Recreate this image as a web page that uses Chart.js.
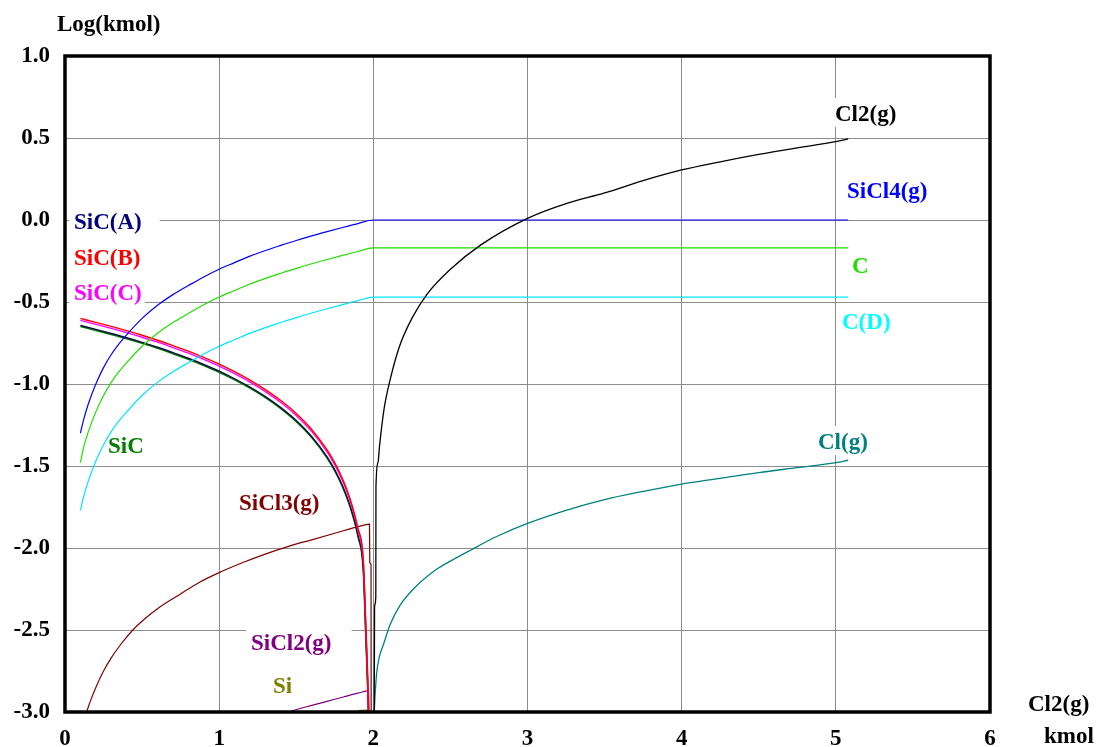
<!DOCTYPE html>
<html>
<head>
<meta charset="utf-8">
<script src="https://cdn.jsdelivr.net/npm/chart.js@4.4.1/dist/chart.umd.min.js"></script>
<style>
  html, body { margin: 0; padding: 0; background: #fff; }
  #wrap { width: 1097px; height: 747px; }
</style>
</head>
<body>
<div id="wrap"><canvas id="c" width="1097" height="747"></canvas></div>
<script>
// Axis ticks
const xTickValues = [0, 1, 2, 3, 4, 5, 6];
const xTickLabels = ['0', '1', '2', '3', '4', '5', '6'];
const yTickValues = [-3, -2.5, -2, -1.5, -1, -0.5, 0, 0.5, 1];
const yTickLabels = ['-3.0', '-2.5', '-2.0', '-1.5', '-1.0', '-0.5', '0.0', '0.5', '1.0'];

// Cl2 input (kmol) and log10 amounts of each species
const xRise = [0.1, 0.12, 0.15, 0.2, 0.25, 0.3, 0.35, 0.4, 0.5, 0.6, 0.7, 0.8, 0.9, 1.0, 1.1, 1.2, 1.3, 1.4, 1.5, 1.6, 1.7, 1.8, 1.9, 2.0, 5.08];
const sicl4 = [-1.30, -1.22, -1.125, -1.00, -0.90, -0.82, -0.755, -0.70, -0.60, -0.52, -0.455, -0.40, -0.347, -0.30, -0.26, -0.22, -0.186, -0.155, -0.125, -0.097, -0.071, -0.046, -0.022, 0.0, 0.0];
const carbon = [-1.48, -1.39, -1.295, -1.17, -1.07, -0.99, -0.925, -0.87, -0.77, -0.69, -0.625, -0.57, -0.517, -0.47, -0.43, -0.39, -0.356, -0.325, -0.295, -0.267, -0.241, -0.216, -0.192, -0.17, -0.17];
const carbonD = [-1.77, -1.69, -1.595, -1.47, -1.37, -1.29, -1.225, -1.17, -1.07, -0.99, -0.925, -0.87, -0.817, -0.77, -0.73, -0.69, -0.656, -0.625, -0.595, -0.567, -0.541, -0.516, -0.492, -0.47, -0.47];

const xSiC = [0.1, 0.2, 0.3, 0.4, 0.5, 0.6, 0.7, 0.8, 0.9, 1.0, 1.1, 1.2, 1.3, 1.4, 1.5, 1.6, 1.7, 1.75, 1.8, 1.85, 1.9, 1.935, 1.952, 1.962, 1.97];
const sicB = [-0.600, -0.624, -0.649, -0.675, -0.703, -0.733, -0.766, -0.800, -0.838, -0.879, -0.925, -0.976, -1.034, -1.101, -1.180, -1.277, -1.402, -1.481, -1.578, -1.703, -1.879, -2.07, -2.48, -2.74, -3.05];
const sicC = [-0.612, -0.636, -0.661, -0.687, -0.715, -0.745, -0.778, -0.812, -0.850, -0.891, -0.937, -0.988, -1.046, -1.113, -1.192, -1.289, -1.414, -1.493, -1.590, -1.715, -1.891, -2.09, -2.50, -2.76, -3.05];
const sicA = [-0.643, -0.667, -0.692, -0.718, -0.746, -0.776, -0.809, -0.843, -0.881, -0.922, -0.968, -1.019, -1.077, -1.144, -1.223, -1.320, -1.445, -1.524, -1.621, -1.746, -1.922, -2.13, -2.55, -2.80, -3.05];
const sic = [-0.649, -0.673, -0.698, -0.724, -0.752, -0.782, -0.815, -0.849, -0.887, -0.928, -0.974, -1.025, -1.083, -1.150, -1.229, -1.326, -1.451, -1.530, -1.627, -1.752, -1.928, -2.14, -2.56, -2.81, -3.05];

const xSiCl3 = [0.14, 0.17, 0.2, 0.25, 0.3, 0.36, 0.44, 0.52, 0.6, 0.75, 0.87, 1.0, 1.15, 1.29, 1.45, 1.6, 1.75, 1.9, 1.975, 1.977, 1.985, 1.986];
const sicl3 = [-3.0, -2.92, -2.85, -2.75, -2.67, -2.59, -2.5, -2.43, -2.37, -2.28, -2.21, -2.15, -2.09, -2.04, -1.99, -1.95, -1.91, -1.87, -1.855, -2.09, -2.10, -3.05];

const xSiCl2 = [1.42, 1.52, 1.6, 1.7, 1.8, 1.9, 1.97, 1.972];
const sicl2 = [-3.01, -2.98, -2.96, -2.935, -2.91, -2.885, -2.87, -3.05];

const xSi = [1.90, 1.967, 1.968];
const si = [-2.992, -2.988, -3.05];

const xCl2 = [2.006, 2.008, 2.016, 2.017, 2.03, 2.04, 2.07, 2.11, 2.17, 2.25, 2.35, 2.5, 2.7, 3.0, 3.25, 3.5, 3.75, 4.0, 4.25, 4.5, 4.75, 5.0, 5.08];
const cl2 = [-3.05, -2.36, -2.3, -1.63, -1.48, -1.38, -1.15, -0.97, -0.77, -0.60, -0.45, -0.30, -0.15, 0.01, 0.10, 0.165, 0.24, 0.305, 0.355, 0.40, 0.44, 0.478, 0.495];

const xCl = [2.004, 2.01, 2.022, 2.04, 2.065, 2.108, 2.173, 2.26, 2.41, 2.5, 2.627, 2.8, 3.0, 3.25, 3.5, 3.75, 4.0, 4.25, 4.5, 4.75, 5.0, 5.08];
const cl = [-3.05, -2.92, -2.76, -2.66, -2.59, -2.47, -2.35, -2.25, -2.13, -2.08, -2.015, -1.93, -1.85, -1.77, -1.705, -1.655, -1.61, -1.575, -1.54, -1.51, -1.48, -1.465];

// Species labels placed inside the plot
const labels = [
  { text: 'SiC(A)',   x: 74,  y: 229, color: '#000080', padR: 18 },
  { text: 'SiC(B)',   x: 74,  y: 265, color: '#ff0000', padR: 3 },
  { text: 'SiC(C)',   x: 74,  y: 300, color: '#ff00ff', padR: 3 },
  { text: 'SiC',      x: 108, y: 453, color: '#008000', padR: 3 },
  { text: 'SiCl3(g)', x: 239, y: 510, color: '#800000', padR: 3 },
  { text: 'SiCl2(g)', x: 251, y: 650, color: '#800080', padR: 20 },
  { text: 'Si',       x: 273, y: 693, color: '#808000', padR: 3 },
  { text: 'Cl2(g)',   x: 835, y: 121, color: '#000000', padR: 3 },
  { text: 'SiCl4(g)', x: 847, y: 198, color: '#0000ff', padR: 3 },
  { text: 'C',        x: 852, y: 273, color: '#22dd00', padR: 3 },
  { text: 'C(D)',     x: 842, y: 329, color: '#00ffff', padR: 3 },
  { text: 'Cl(g)',    x: 818, y: 449, color: '#008080', padR: 3 }
];

const FONT = "bold 23px 'Liberation Serif', 'Times New Roman', serif";

function series(label, xs, ys, color, width) {
  return {
    label: label,
    data: xs.map((x, i) => ({ x: x, y: ys[i] })),
    borderColor: color,
    borderWidth: width,
    pointRadius: 0,
    fill: false,
    cubicInterpolationMode: 'monotone'
  };
}

const labelPlugin = {
  id: 'speciesLabels',
  beforeDatasetsDraw(chart) {
    const ctx = chart.ctx;
    ctx.save();
    ctx.font = FONT;
    ctx.textBaseline = 'alphabetic';
    ctx.textAlign = 'left';
    labels.forEach(l => {
      const w = ctx.measureText(l.text).width;
      ctx.fillStyle = '#ffffff';
      ctx.fillRect(l.x - 5, l.y - 23, w + 5 + l.padR, 29);
      ctx.fillStyle = l.color;
      ctx.fillText(l.text, l.x, l.y);
    });
    ctx.restore();
  }
};

const framePlugin = {
  id: 'frameAndTitles',
  afterDatasetsDraw(chart) {
    const ctx = chart.ctx;
    const a = chart.chartArea;
    ctx.save();
    ctx.strokeStyle = '#000';
    ctx.lineWidth = 3.5;
    ctx.strokeRect(a.left, a.top, a.right - a.left, a.bottom - a.top);
    ctx.font = FONT;
    ctx.fillStyle = '#000';
    ctx.textBaseline = 'alphabetic';
    ctx.textAlign = 'left';
    ctx.fillText('Log(kmol)', 57, 31);
    ctx.fillText('Cl2(g)', 1028, 711);
    ctx.fillText('kmol', 1044, 743);
    ctx.restore();
  }
};

const tickFont = { family: "'Liberation Serif', 'Times New Roman', serif", size: 23, weight: 'bold' };
const gridStyle = { color: '#8c8c8c', lineWidth: 1, drawTicks: false };

new Chart(document.getElementById('c'), {
  type: 'line',
  data: {
    datasets: [
      series('Cl2(g)', xCl2, cl2, '#000000', 1.3),
      series('Cl(g)', xCl, cl, '#008080', 1.3),
      series('SiCl4(g)', xRise, sicl4, '#0000ff', 1.2),
      series('C', xRise, carbon, '#22dd00', 1.2),
      series('C(D)', xRise, carbonD, '#00e5ff', 1.2),
      series('SiC(B)', xSiC, sicB, '#ff0000', 1.4),
      series('SiC(C)', xSiC, sicC, '#ff00ff', 1.4),
      series('SiC(A)', xSiC, sicA, '#101040', 1.4),
      series('SiC', xSiC, sic, '#008000', 1.6),
      series('SiCl3(g)', xSiCl3, sicl3, '#800000', 1.2),
      series('SiCl2(g)', xSiCl2, sicl2, '#800080', 1.2),
      series('Si', xSi, si, '#808000', 1.2)
    ]
  },
  options: {
    responsive: false,
    animation: false,
    devicePixelRatio: 1,
    layout: { padding: { left: 0, top: 56, right: 107, bottom: 0 } },
    plugins: { legend: { display: false }, tooltip: { enabled: false }, title: { display: false } },
    scales: {
      x: {
        type: 'linear',
        min: 0,
        max: 6,
        afterFit(s) { s.height = 35; },
        afterBuildTicks(s) { s.ticks = xTickValues.map(v => ({ value: v })); },
        ticks: {
          font: tickFont,
          color: '#000',
          padding: 13,
          maxRotation: 0,
          callback: (v, i) => xTickLabels[i]
        },
        grid: gridStyle,
        border: { display: false }
      },
      y: {
        type: 'linear',
        min: -3,
        max: 1,
        afterFit(s) { s.width = 65; },
        afterBuildTicks(s) { s.ticks = yTickValues.map(v => ({ value: v })); },
        ticks: {
          font: tickFont,
          color: '#000',
          padding: 15,
          callback: (v, i) => yTickLabels[i]
        },
        grid: gridStyle,
        border: { display: false }
      }
    }
  },
  plugins: [labelPlugin, framePlugin]
});
</script>
</body>
</html>
